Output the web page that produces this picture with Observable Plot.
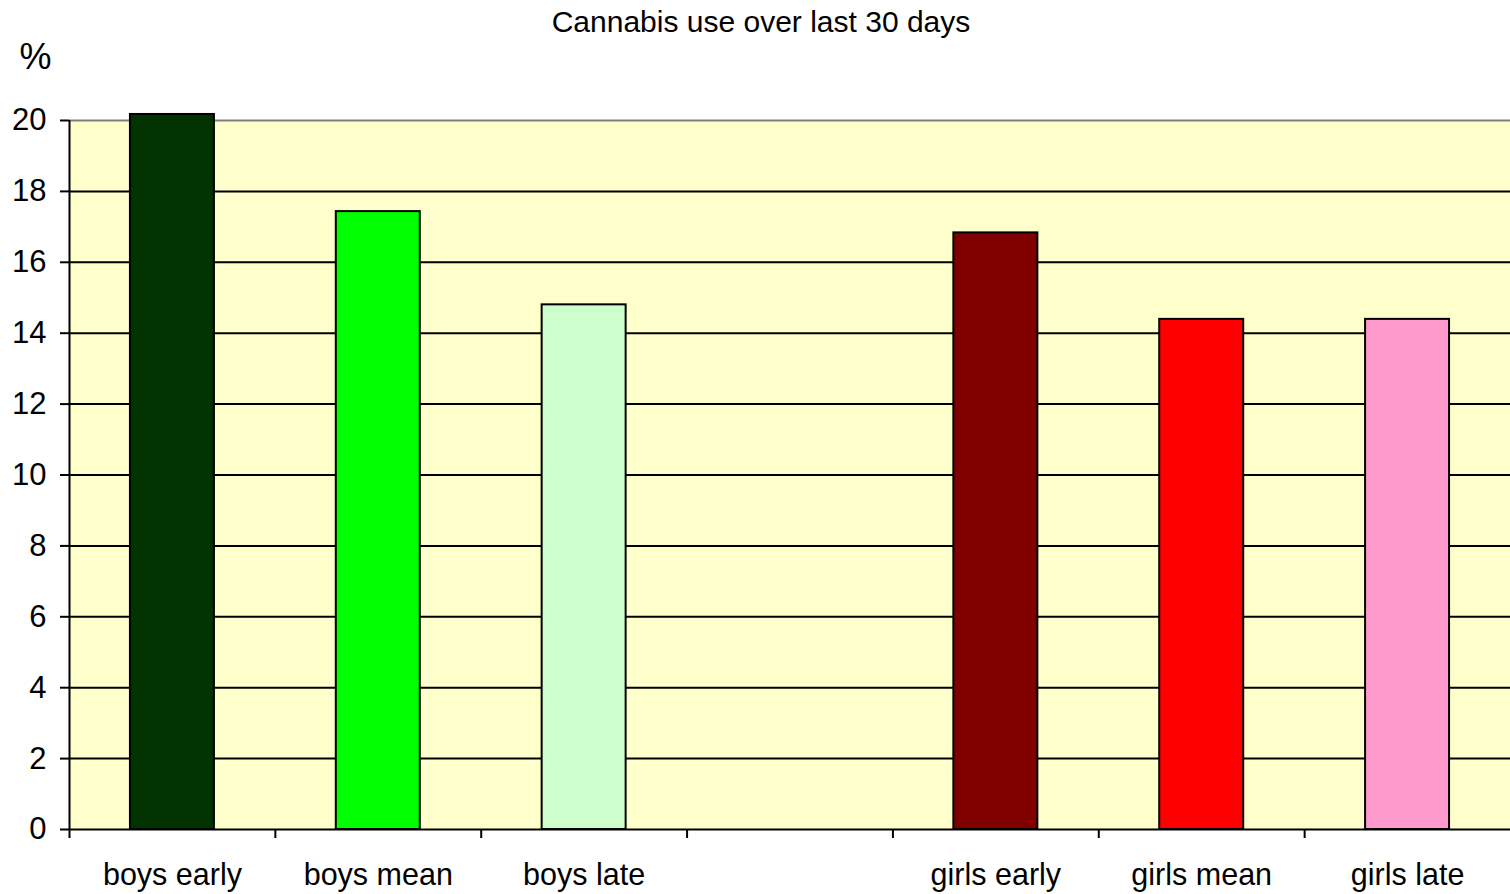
<!DOCTYPE html>
<html>
<head>
<meta charset="utf-8">
<script src="https://cdn.jsdelivr.net/npm/d3@7"></script>
<script src="https://cdn.jsdelivr.net/npm/@observablehq/plot@0.6"></script>
<style>
  html, body { margin: 0; padding: 0; background: #ffffff; }
  #chart svg { display: block; }
</style>
</head>
<body>
<div id="chart"></div>
<script>
const title = "Cannabis use over last 30 days";
const yLabel = "%";
const categories = ["boys early", "boys mean", "boys late", "", "girls early", "girls mean", "girls late"];
const barCategories = ["boys early", "boys mean", "boys late", "girls early", "girls mean", "girls late"];
const values = [20.17, 17.43, 14.8, 16.83, 14.39, 14.39];
const colors = ["#003300", "#00ff00", "#ccffcc", "#800000", "#ff0000", "#ff99cc"];
const yTicks = [0, 2, 4, 6, 8, 10, 12, 14, 16, 18, 20];
const gridTicks = [2, 4, 6, 8, 10, 12, 14, 16, 18];

const data = barCategories.map((c, i) => ({category: c, value: values[i], color: colors[i]}));

const width = 1510, height = 894;
const marginLeft = 69, marginRight = 0, marginTop = 120, marginBottom = 65;
const step = (width - marginLeft - marginRight) / categories.length;
const font = "'Liberation Sans', Arial, sans-serif";

const chart = Plot.plot({
  width, height, marginLeft, marginRight, marginTop, marginBottom,
  style: {fontFamily: font, background: "#ffffff", color: "#000000"},
  x: {type: "band", domain: categories, paddingInner: 0.592, paddingOuter: 0.296, round: false, label: null},
  y: {domain: [0, 20], label: null},
  marks: [
    Plot.frame({fill: "#ffffcc", stroke: null}),
    Plot.ruleY(gridTicks, {stroke: "#000000", strokeWidth: 2}),
    Plot.ruleY([20], {stroke: "#808080", strokeWidth: 2}),
    Plot.barY(data, {x: "category", y: "value", fill: "color", stroke: "#000000", strokeWidth: 2}),
    Plot.ruleY([0], {stroke: "#000000", strokeWidth: 2}),
    Plot.ruleX([categories[0]], {dx: -step / 2, y1: 0, y2: 20, stroke: "#000000", strokeWidth: 2}),
    Plot.axisY({ticks: yTicks, tickSize: 9, tickPadding: 14, fontSize: 31, stroke: "#000000", strokeWidth: 2, label: null}),
    Plot.axisX({tickSize: 9, dx: -step / 2, text: null, stroke: "#000000", strokeWidth: 2, label: null}),
    Plot.axisX({tickSize: 0, tickPadding: 34, fontSize: 30.5, label: null, tickFormat: d => d}),
    Plot.text([title], {text: d => d, frameAnchor: "top", lineAnchor: "middle", dx: -29, dy: -98.5, fontSize: 30, fill: "#000000"}),
    Plot.text([yLabel], {text: d => d, frameAnchor: "top-left", lineAnchor: "middle", dx: -34, dy: -63, fontSize: 36, textAnchor: "middle", fill: "#000000"})
  ]
});
document.getElementById("chart").appendChild(chart);
</script>
</body>
</html>
